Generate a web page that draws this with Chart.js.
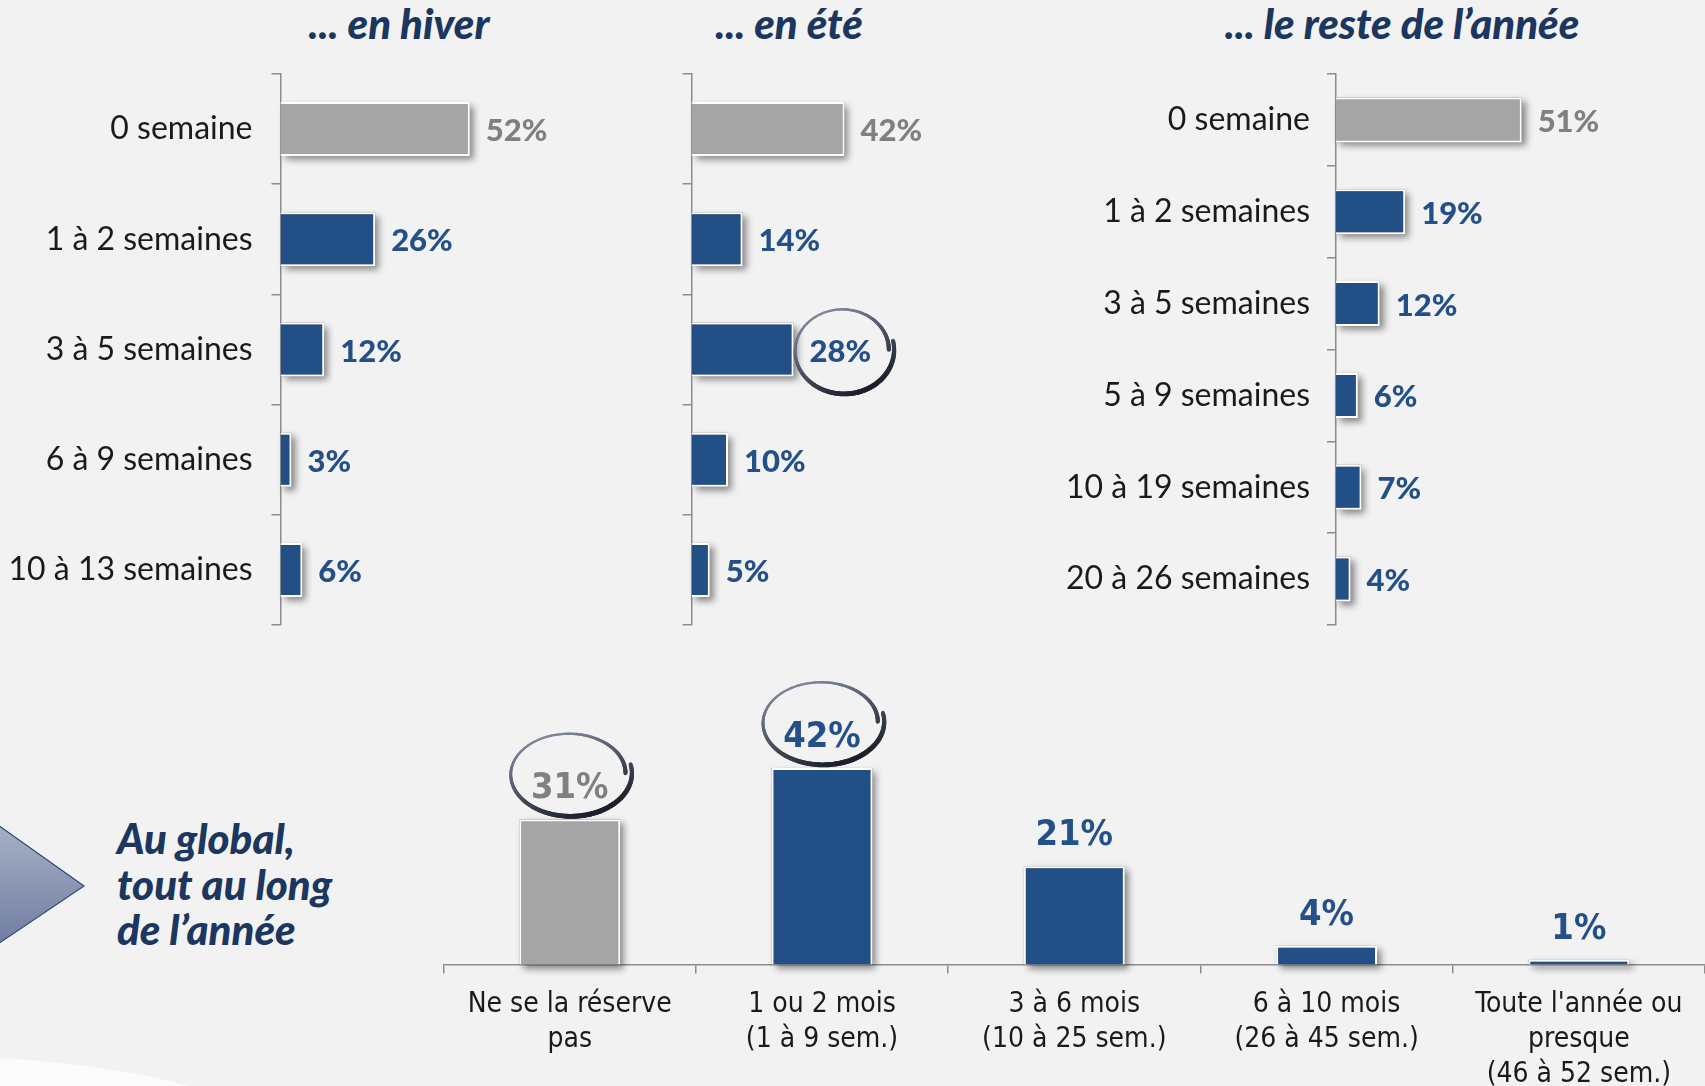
<!DOCTYPE html>
<html><head><meta charset="utf-8">
<script src="https://cdn.jsdelivr.net/npm/chart.js@4.4.1/dist/chart.umd.min.js"></script>
<style>
html,body{margin:0;padding:0;background:#F2F2F2;}
#wrap{position:relative;width:1705px;height:1086px;overflow:hidden;background:#F2F2F2;}
canvas{position:absolute;}
.t{position:absolute;font-family:Lato,'Open Sans',sans-serif;font-weight:900;font-style:italic;color:#1B365F;white-space:nowrap;font-size:42px;line-height:48px;}
</style></head><body>
<div id="wrap">
<svg width="1705" height="1086" style="position:absolute;left:0;top:0">
  <defs><linearGradient id="ag" x1="0" y1="0" x2="0" y2="1">
    <stop offset="0" stop-color="#A7B1C8"/><stop offset="1" stop-color="#6F7C9E"/></linearGradient></defs>
  <path d="M-5,823 L84,886 L-5,946 Z" fill="url(#ag)" stroke="#2D4A7A" stroke-width="1.2"/>
  <path d="M0,1058 C60,1061 130,1070 190,1086 L0,1086 Z" fill="#FBFBFB"/>
</svg>
<div class="t" style="left:199px;top:-1px;width:400px;text-align:center">... en hiver</div>
<div class="t" style="left:589px;top:-1px;width:400px;text-align:center">... en été</div>
<div class="t" style="left:1152px;top:-1px;width:500px;text-align:center">... le reste de l’année</div>
<div class="t" style="left:117px;top:816px;line-height:45.5px">Au global,<br>tout au long<br>de l’année</div>
<canvas id="c1" width="620" height="640" style="left:0;top:0"></canvas>
<canvas id="c2" width="400" height="640" style="left:620px;top:0"></canvas>
<canvas id="c3" width="685" height="640" style="left:1020px;top:0"></canvas>
<canvas id="c4" width="1305" height="446" style="left:400px;top:640px"></canvas>
</div>
<script>
// ---- data ----
const hiverCats = ["0 semaine","1 à 2 semaines","3 à 5 semaines","6 à 9 semaines","10 à 13 semaines"];
const hiverVals = [52,26,12,3,6];
const eteCats = ["0 semaine","1 à 2 semaines","3 à 5 semaines","6 à 9 semaines","10 à 13 semaines"];
const eteVals = [42,14,28,10,5];
const eteRinged = [2];
const resteCats = ["0 semaine","1 à 2 semaines","3 à 5 semaines","5 à 9 semaines","10 à 19 semaines","20 à 26 semaines"];
const resteVals = [51,19,12,6,7,4];
const globalCats = [["Ne se la réserve","pas"],["1 ou 2 mois","(1 à 9 sem.)"],["3 à 6 mois","(10 à 25 sem.)"],["6 à 10 mois","(26 à 45 sem.)"],["Toute l'année ou","presque","(46 à 52 sem.)"]];
const globalVals = [31,42,21,4,1];
const globalRinged = [0,1];

const BLUE='#224F85', GRAY='#A5A5A5', LBLUE='#245089', LGRAY='#808080';
const barColors = n => Array.from({length:n},(_,i)=> i===0?GRAY:BLUE);
const lblColors = n => Array.from({length:n},(_,i)=> i===0?LGRAY:LBLUE);

function drawRing(ctx,cx,cy,rx,ry){
  const N=180, a0=-0.22, a1=2*Math.PI-0.02;
  const dark=[28,32,44], light=[125,134,154];
  ctx.save(); ctx.lineCap='round';
  const P=t=>{const a=a0+(a1-a0)*t; const s=1.04-0.11*t; return [cx+rx*s*Math.cos(a), cy+ry*s*Math.sin(a), a];};
  for(let k=0;k<N;k++){
    const [x0,y0,a]=P(k/N), [x1,y1]=P((k+1)/N);
    const v=(Math.sin(a+0.5)+1)/2;
    const c=light.map((L,j)=>Math.round(L+(dark[j]-L)*v));
    ctx.strokeStyle='rgb('+c.join(',')+')';
    ctx.lineWidth=2.2+2.8*v;
    ctx.beginPath(); ctx.moveTo(x0,y0); ctx.lineTo(x1,y1); ctx.stroke();
  }
  ctx.restore();
}

const shadowPlugin={
  id:'barShadow',
  beforeDatasetsDraw(chart){
    const ctx=chart.ctx; ctx.save();
    ctx.shadowColor='rgba(0,0,0,0.45)'; ctx.shadowBlur=7; ctx.shadowOffsetX=4; ctx.shadowOffsetY=4;
    chart.getDatasetMeta(0).data.forEach(el=>{
      const p=el.getProps(['x','y','base','width','height']);
      let l,t,w,h;
      if(chart.options.indexAxis==='y'){l=Math.min(p.base,p.x);w=Math.abs(p.x-p.base);t=p.y-p.height/2;h=p.height;}
      else{l=p.x-p.width/2;w=p.width;t=Math.min(p.y,p.base);h=Math.abs(p.base-p.y);}
      ctx.fillStyle='#999'; ctx.fillRect(l,t,w,h);
    });
    ctx.restore();
  }
};
const valuePlugin={
  id:'valueLabels',
  afterDatasetsDraw(chart,args,o){
    const ctx=chart.ctx, meta=chart.getDatasetMeta(0), ds=chart.data.datasets[0];
    ctx.save(); ctx.font=o.font; ctx.textAlign='center'; ctx.textBaseline='middle';
    meta.data.forEach((el,i)=>{
      const txt=ds.data[i]+'%'; const w=ctx.measureText(txt).width;
      let cx,cy;
      if(chart.options.indexAxis==='y'){cx=el.x+o.gap+w/2; cy=el.y+2;}
      else{cx=el.x; cy=el.y-o.gap;}
      if((o.rings||[]).includes(i)) drawRing(ctx,cx+o.rdx,cy+o.rdy,o.rx,o.ry);
      ctx.fillStyle=o.colors[i]; ctx.fillText(txt,cx,cy);
    });
    ctx.restore();
  }
};
Chart.register(shadowPlugin,valuePlugin);
Chart.defaults.animation=false;

function hbar(id,cats,vals,axisW,padRight,showLabels,labelPad,rings){
  new Chart(document.getElementById(id),{
    type:'bar',
    data:{labels:cats,datasets:[{data:vals,backgroundColor:barColors(vals.length),borderColor:'#ffffff',borderWidth:2,barPercentage:0.49,categoryPercentage:1}]},
    options:{
      indexAxis:'y',responsive:false,devicePixelRatio:1,
      layout:{padding:{left:0,top:74,right:padRight,bottom:15}},
      plugins:{legend:{display:false},tooltip:{enabled:false},
        valueLabels:{font:'900 31px Lato, "Open Sans", sans-serif',gap:16,colors:lblColors(vals.length),rings:rings,rdx:3,rdy:-1,rx:49,ry:43}},
      scales:{
        x:{display:false,min:0,max:60},
        y:{grid:{offset:true,drawOnChartArea:false,drawTicks:true,tickLength:9,color:'#8C8C8C',lineWidth:1.5},
           border:{display:true,color:'#8C8C8C',width:1.5},
           ticks:{display:showLabels,padding:labelPad,color:'#1A1A1A',font:{family:'Lato, "Open Sans", sans-serif',size:32}},
           afterFit(s){s.width=axisW;s.paddingTop=0;s.paddingBottom=0;}}
      }
    }
  });
}
hbar('c1',hiverCats,hiverVals,280.5,121.1,true,19,[]);
hbar('c2',eteCats,eteVals,71.6,110,false,19,eteRinged);
hbar('c3',resteCats,resteVals,316,150.6,true,17,[]);

new Chart(document.getElementById('c4'),{
  type:'bar',
  data:{labels:globalCats,datasets:[{data:globalVals,backgroundColor:barColors(globalVals.length),borderColor:'#ffffff',borderWidth:2,barPercentage:0.4,categoryPercentage:1}]},
  options:{
    responsive:false,devicePixelRatio:1,
    layout:{padding:{left:43.6,top:90.5,right:0,bottom:0}},
    plugins:{legend:{display:false},tooltip:{enabled:false},
      valueLabels:{font:'bold 36px "DejaVu Sans Condensed", "DejaVu Sans", sans-serif',gap:30.5,colors:lblColors(globalVals.length),rings:globalRinged,rdx:0,rdy:-15,rx:60,ry:42}},
    scales:{
      y:{display:false,min:0,max:50},
      x:{grid:{offset:true,drawOnChartArea:false,drawTicks:true,tickLength:9,color:'#8C8C8C',lineWidth:1.5},
         border:{display:true,color:'#8C8C8C',width:1.5},
         ticks:{padding:13.5,color:'#1A1A1A',maxRotation:0,autoSkip:false,font:{family:'"DejaVu Sans Condensed", "DejaVu Sans", sans-serif',size:28,lineHeight:1.25}},
         afterFit(s){s.height=121.5;s.paddingLeft=0;s.paddingRight=0;}}
    }
  }
});
</script>
</body></html>
